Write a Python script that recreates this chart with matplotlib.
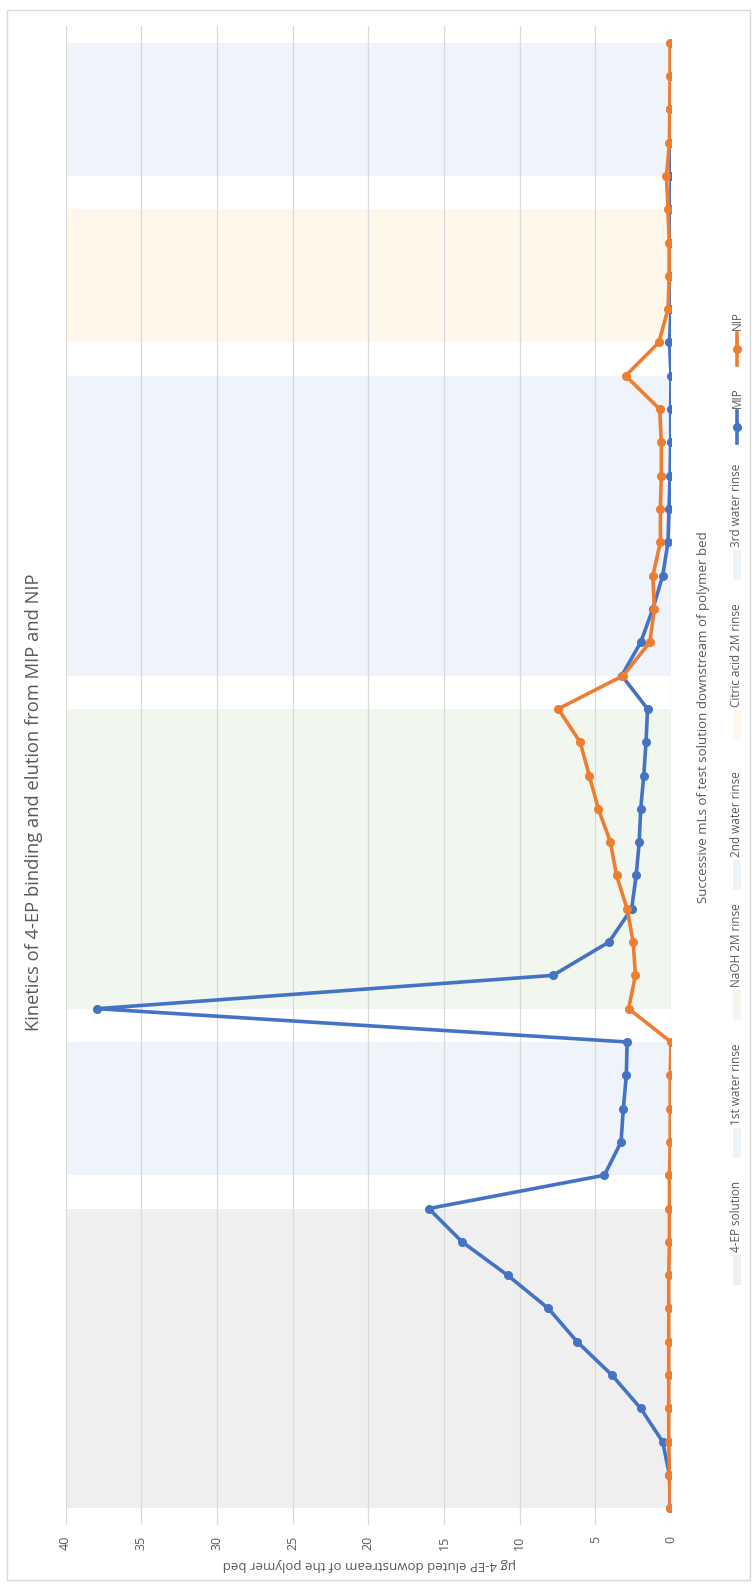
import matplotlib
matplotlib.use("Agg")
import matplotlib.pyplot as plt
from matplotlib.patches import Rectangle

plt.rcParams['font.family'] = ['Open Sans', 'DejaVu Sans']

# successive mL index (0..44)
ml = list(range(45))

mip = [0.05, 0.1, 0.55, 2.0, 3.9, 6.2, 8.1, 10.8, 13.8, 16.0,
       4.4, 3.3, 3.15, 2.95, 2.9,
       37.9, 7.8, 4.1, 2.6, 2.3, 2.1, 2.0, 1.8, 1.65, 1.55,
       3.25, 2.0, 1.2, 0.55, 0.2, 0.13, 0.06, 0.02, 0.02, 0.0,
       0.1, 0.0, 0.0, 0.0, 0.0,
       0.0, 0.0, 0.05, 0.0, 0.0]
nip = [0.05, 0.1, 0.15, 0.15, 0.15, 0.15, 0.15, 0.15, 0.1, 0.1,
       0.1, 0.05, 0.05, 0.05, 0.0,
       2.8, 2.35, 2.5, 2.9, 3.6, 4.0, 4.8, 5.4, 6.0, 7.45,
       3.15, 1.4, 1.1, 1.2, 0.7, 0.7, 0.64, 0.64, 0.75, 3.0,
       0.8, 0.2, 0.12, 0.12, 0.2,
       0.3, 0.1, 0.08, 0.06, 0.06]

# treatment phases: label, first index, last index, colour
phase_names = ["4-EP solution", "1st water rinse", "NaOH 2M rinse",
               "2nd water rinse", "Citric acid 2M rinse", "3rd water rinse"]
phase_start = [0, 10, 15, 25, 35, 40]
phase_end = [9, 14, 24, 34, 39, 44]
phase_colors = ["#efefef", "#eff4fa", "#f1f6ee", "#eff4fa", "#fff8ea", "#eff4fa"]
band_top = 40

ticks = [0, 5, 10, 15, 20, 25, 30, 35, 40]

W, H = 756, 1587
fig = plt.figure(figsize=(W / 100, H / 100), dpi=100)
txt = "#595959"

# plot drawn already rotated: value axis runs right->left, mL index bottom->top
ax = fig.add_axes([65.5 / W, 1 - 1525 / H, (671 - 65.5) / W, (1525 - 26) / H])
for s, e, c in zip(phase_start, phase_end, phase_colors):
    ax.fill_betweenx([s, e], 0, band_top, color=c, lw=0, zorder=0.2)

ax.plot(mip, ml, color="#4472c4", lw=2.6, marker="o", ms=5.5, zorder=3, label="MIP")
ax.plot(nip, ml, color="#ed7d31", lw=2.6, marker="o", ms=5.5, zorder=4, label="NIP")

ax.set_xlim(40, 0)
ax.set_ylim(-0.5, 44.5)
ax.set_xticks(ticks)
ax.set_xticklabels([str(t) for t in ticks], rotation=90, color=txt, fontsize=9)
ax.tick_params(axis="x", length=0, pad=8)
ax.set_yticks([])
ax.grid(axis="x", color="#d9d9d9", lw=0.9)
ax.set_axisbelow(True)
for sp in ax.spines.values():
    sp.set_visible(False)

# overlay in pixel coordinates for titles, legend and border
ov = fig.add_axes([0, 0, 1, 1])
ov.set_xlim(0, W)
ov.set_ylim(H, 0)
ov.axis("off")
ov.add_patch(Rectangle((7, 10), 743, 1570, fill=False, ec="#d9d9d9", lw=1))

ov.text(34, 802, "Kinetics of 4-EP binding and elution from MIP and NIP",
        rotation=90, ha="center", va="center", color=txt, fontsize=13.2)
ov.text(704, 717, "Successive mLs of test solution downstream of polymer bed",
        rotation=90, ha="center", va="center", color=txt, fontsize=9.5)
ov.text(369, 1565, "\u00b5g 4-EP eluted downstream of the polymer bed",
        rotation=180, ha="center", va="center", color=txt, fontsize=9.5)

# legend (drawn by hand because it is rotated)
lx = 737
patch_bottom = [1285, 1158, 1020, 890, 740, 580]
for name, pb, c in zip(phase_names, patch_bottom, phase_colors):
    ov.add_patch(Rectangle((lx - 4, pb - 30), 8, 30, color=c, lw=0))
    ov.text(lx, pb - 33, name, rotation=90, ha="center", va="bottom",
            color=txt, fontsize=8.5)
for name, lb, c in zip(["MIP", "NIP"], [443, 365], ["#4472c4", "#ed7d31"]):
    ov.plot([lx, lx], [lb, lb - 32], color=c, lw=2.6)
    ov.plot([lx], [lb - 16], "o", color=c, ms=5.5)
    ov.text(lx, lb - 35, name, rotation=90, ha="center", va="bottom",
            color=txt, fontsize=8.5)

fig.savefig("out.png", dpi=100, facecolor="white")
